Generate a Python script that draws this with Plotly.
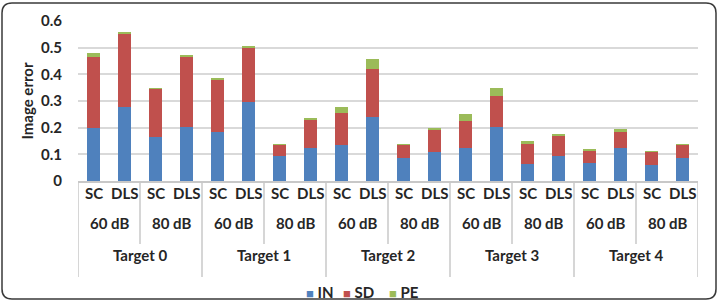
import plotly.graph_objects as go

# ---------------- data ----------------
targets = ["Target 0", "Target 1", "Target 2", "Target 3", "Target 4"]
levels = ["60 dB", "80 dB"]
methods = ["SC", "DLS"]

IN = [0.198, 0.279, 0.166, 0.204, 0.183, 0.295, 0.095, 0.124, 0.134, 0.239,
      0.086, 0.109, 0.124, 0.204, 0.065, 0.095, 0.066, 0.124, 0.061, 0.086]
SD = [0.268, 0.272, 0.179, 0.262, 0.198, 0.205, 0.040, 0.107, 0.122, 0.181,
      0.050, 0.085, 0.100, 0.114, 0.077, 0.077, 0.049, 0.060, 0.050, 0.050]
PE = [0.013, 0.008, 0.002, 0.006, 0.002, 0.005, 0.002, 0.002, 0.023, 0.037,
      0.002, 0.002, 0.028, 0.032, 0.007, 0.002, 0.006, 0.012, 0.001, 0.002]

series = [("IN", IN, "#4F81BD"), ("SD", SD, "#C0504D"), ("PE", PE, "#9BBB59")]

# ---------------- layout geometry (pixels) ----------------
W, H = 719, 302
L, R, T, B = 78, 698, 21, 181
PW, PH = R - L, B - T

def px(x):
    return (x - L) / PW

def py(y):
    return (B - y) / PH

n = len(targets) * len(levels) * len(methods)
xs = list(range(n))

FONT = "Lato, 'Open Sans', sans-serif"
TXT = "#262626"
BOLD = dict(size=15, color=TXT, family=FONT, weight="bold")

fig = go.Figure()
for name, vals, col in series:
    fig.add_trace(go.Bar(x=xs, y=vals, name=name, marker=dict(color=col, line=dict(width=0)),
                         width=0.4, showlegend=False))

annotations = []
shapes = []
i = 0
for ti, t in enumerate(targets):
    t_start = i
    for li, lv in enumerate(levels):
        l_start = i
        for m in methods:
            annotations.append(dict(x=i, y=py(204), xref="x", yref="paper", text=m,
                                    showarrow=False, font=BOLD))
            i += 1
        annotations.append(dict(x=(l_start + i - 1) / 2, y=py(234), xref="x", yref="paper", text=lv,
                                showarrow=False, font=BOLD))
        if li < len(levels) - 1:
            shapes.append(dict(type="line", xref="x", yref="paper", x0=i - 0.5, x1=i - 0.5,
                               y0=0, y1=py(244), line=dict(color="#C8C8C8", width=1.5)))
    annotations.append(dict(x=(t_start + i - 1) / 2, y=py(266), xref="x", yref="paper", text=t,
                            showarrow=False, font=BOLD))
    shapes.append(dict(type="line", xref="x", yref="paper", x0=t_start - 0.5, x1=t_start - 0.5,
                       y0=0, y1=py(277), line=dict(color="#C8C8C8", width=1.5)))
shapes.append(dict(type="line", xref="x", yref="paper", x0=n - 0.5, x1=n - 0.5,
                   y0=0, y1=py(277), line=dict(color="#C8C8C8", width=1.5)))

# legend (drawn as text with coloured square glyphs)
legend_x = [304, 341, 387]
for (name, _, col), lx in zip(series, legend_x):
    annotations.append(dict(x=px(lx), y=py(292), xref="paper", yref="paper", xanchor="left",
                            yanchor="middle", showarrow=False, font=BOLD,
                            text=f"<span style='color:{col};font-size:13px'>■</span> {name}"))

# rounded outer frame
x0, x1, y0, y1, r = 2, 716, 3, 299, 10
path = (f"M {px(x0 + r)},{py(y0)} L {px(x1 - r)},{py(y0)} Q {px(x1)},{py(y0)} {px(x1)},{py(y0 + r)} "
        f"L {px(x1)},{py(y1 - r)} Q {px(x1)},{py(y1)} {px(x1 - r)},{py(y1)} "
        f"L {px(x0 + r)},{py(y1)} Q {px(x0)},{py(y1)} {px(x0)},{py(y1 - r)} "
        f"L {px(x0)},{py(y0 + r)} Q {px(x0)},{py(y0)} {px(x0 + r)},{py(y0)} Z")
shapes.append(dict(type="path", xref="paper", yref="paper", path=path,
                   line=dict(color="#3A3A3A", width=1.5), layer="below"))

fig.update_layout(
    width=W, height=H, barmode="stack",
    margin=dict(l=L, r=W - R, t=T, b=H - B, pad=0, autoexpand=False),
    paper_bgcolor="white", plot_bgcolor="white",
    font=dict(family=FONT, size=15, color=TXT),
    xaxis=dict(range=[-0.5, n - 0.5], showticklabels=False, showgrid=False, zeroline=False,
               showline=True, linecolor="#C8C8C8", linewidth=1.5, ticks=""),
    yaxis=dict(range=[0, 0.6], dtick=0.1, tick0=0, showgrid=True, gridcolor="#D9D9D9", gridwidth=1.5,
               zeroline=False, showline=False, ticks="", ticklabelstandoff=15,
               tickfont=BOLD,
               title=dict(text="Image error", standoff=3, font=BOLD)),
    annotations=annotations, shapes=shapes, showlegend=False,
)

fig.write_html("out.html")
